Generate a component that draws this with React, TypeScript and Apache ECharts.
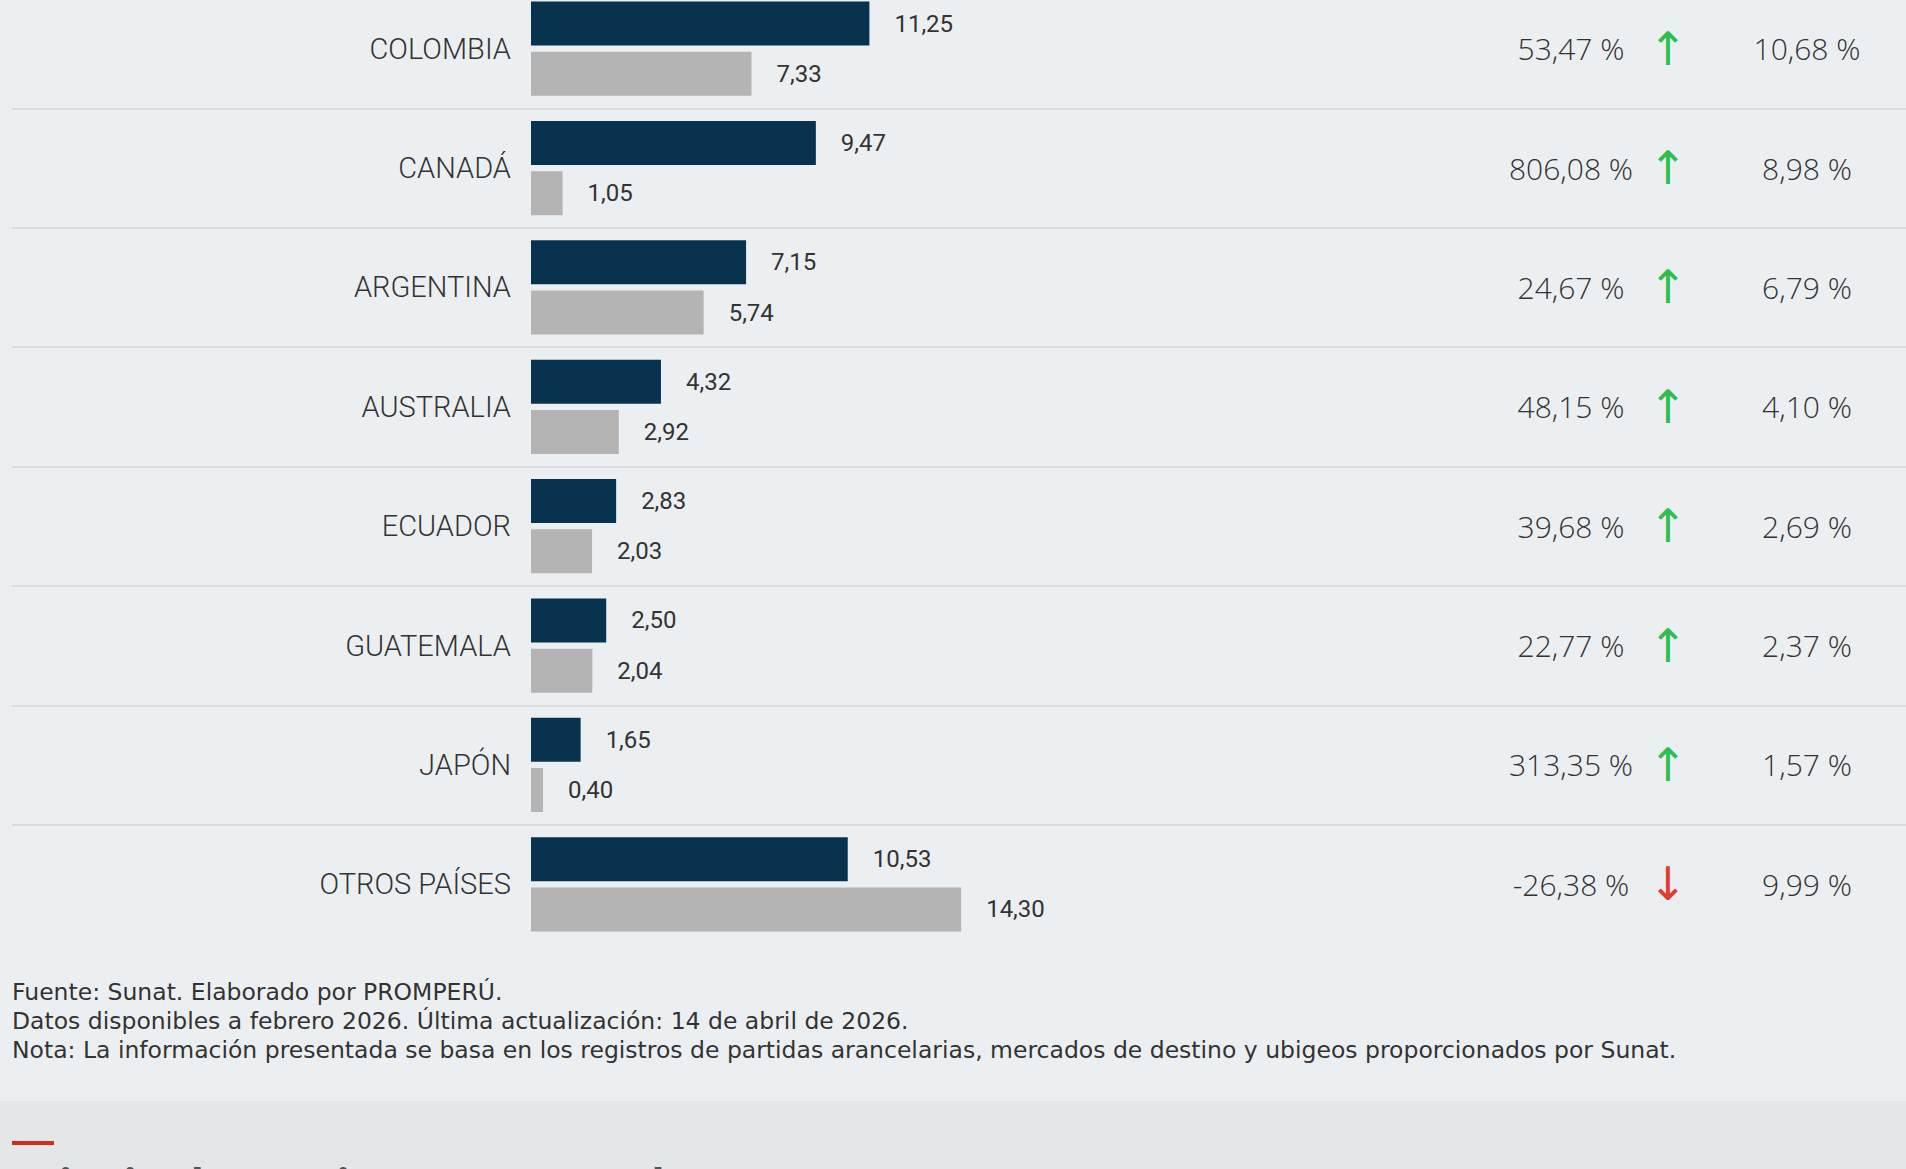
import React, { useEffect, useRef } from 'react';
import * as echarts from 'echarts';

const categories = ['COLOMBIA', 'CANADÁ', 'ARGENTINA', 'AUSTRALIA', 'ECUADOR', 'GUATEMALA', 'JAPÓN', 'OTROS PAÍSES'];
const valuesCurrent = [11.25, 9.47, 7.15, 4.32, 2.83, 2.5, 1.65, 10.53];
const valuesPrevious = [7.33, 1.05, 5.74, 2.92, 2.03, 2.04, 0.4, 14.3];
const variation = [53.47, 806.08, 24.67, 48.15, 39.68, 22.77, 313.35, -26.38];
const share = [10.68, 8.98, 6.79, 4.1, 2.69, 2.37, 1.57, 9.99];
const footnotes = [
  'Fuente: Sunat. Elaborado por PROMPERÚ.',
  'Datos disponibles a febrero 2026. Última actualización: 14 de abril de 2026.',
  'Nota: La información presentada se basa en los registros de partidas arancelarias, mercados de destino y ubigeos proporcionados por Sunat.',
];
const nextHeading = 'Principales regiones exportadoras';

const fmt = (v: number) => v.toFixed(2).replace('.', ',');

const DARK = '#08334e';
const GRAY = '#b4b4b4';
const TEXT = '#333333';
const SHIFT = 11; // the page is scrolled: the chart starts above the window

export default function App() {
  const ref = useRef<HTMLDivElement>(null);

  useEffect(() => {
    const chart = echarts.init(ref.current!, null, { renderer: 'svg' });
    const sideAxis = (offset: number, extra: any) => ({
      gridIndex: 0,
      type: 'category',
      data: categories,
      inverse: true,
      position: 'right',
      offset,
      axisLine: { show: false },
      axisTick: { show: false },
      splitLine: { show: false },
      axisLabel: {
        interval: 0,
        margin: 0,
        align: 'center',
        fontFamily: 'Open Sans',
        fontWeight: 300,
        fontSize: 30,
        color: TEXT,
        padding: [0, 0, 2, 0],
        ...extra,
      },
    });

    const barLabel = {
      show: true,
      position: 'right',
      distance: 25,
      fontFamily: 'Roboto',
      fontSize: 24,
      color: TEXT,
      formatter: (p: any) => fmt(p.value),
    };

    chart.setOption({
      animation: false,
      backgroundColor: '#eceff2',
      grid: [
        { left: 12, right: 0, top: 0, height: 955 },
        { left: 531, width: 752, top: 0, height: 955 },
      ],
      xAxis: [
        { gridIndex: 0, type: 'value', show: false, min: 0, max: 1 },
        { gridIndex: 1, type: 'value', show: false, min: 0, max: 25 },
      ],
      yAxis: [
        {
          gridIndex: 0,
          type: 'category',
          data: categories,
          inverse: true,
          axisLine: { show: false },
          axisTick: { show: false },
          axisLabel: { show: false },
          splitLine: { show: true, showMinLine: false, showMaxLine: false, lineStyle: { color: '#dcdcdc', width: 2 } },
        },
        {
          gridIndex: 1,
          type: 'category',
          data: categories,
          inverse: true,
          axisLine: { show: false },
          axisTick: { show: false },
          splitLine: { show: false },
          axisLabel: {
            interval: 0,
            margin: 20,
            fontFamily: 'Roboto',
            fontWeight: 300,
            fontSize: 29,
            color: TEXT,
            padding: [0, 0, 3, 0],
          },
        },
        sideAxis(-335, {
          formatter: (_v: string, i: number) => fmt(variation[i]) + ' %',
        }),
        sideAxis(-238, {
          fontFamily: 'DejaVu Sans',
          fontWeight: 'normal',
          fontSize: 46,
          padding: 0,
          formatter: (_v: string, i: number) => (variation[i] >= 0 ? '↑' : '↓'),
          color: (v: string) => (variation[categories.indexOf(v)] >= 0 ? '#2dbe4e' : '#e03c31'),
        }),
        sideAxis(-99, {
          formatter: (_v: string, i: number) => fmt(share[i]) + ' %',
        }),
      ],
      series: [
        {
          type: 'bar',
          xAxisIndex: 1,
          yAxisIndex: 1,
          data: valuesCurrent,
          barWidth: 44,
          barGap: '14%',
          itemStyle: { color: DARK },
          label: barLabel,
        },
        {
          type: 'bar',
          xAxisIndex: 1,
          yAxisIndex: 1,
          data: valuesPrevious,
          barWidth: 44,
          barGap: '14%',
          itemStyle: { color: GRAY },
          label: barLabel,
        },
      ],
      graphic: [
        {
          type: 'rect',
          left: 0,
          top: 1101 + SHIFT,
          shape: { width: 1906, height: 68 },
          style: { fill: '#e3e7e8' },
          silent: true,
        },
        {
          type: 'rect',
          left: 12,
          top: 1141 + SHIFT,
          shape: { width: 42, height: 4 },
          style: { fill: '#d52b1e' },
          silent: true,
        },
        ...footnotes.map((t, i) => ({
          type: 'text',
          left: 12,
          top: 980 + SHIFT + i * 29,
          style: { text: t, fontFamily: 'DejaVu Sans', fontSize: 23.5, fill: TEXT },
          silent: true,
        })),
        {
          type: 'text',
          left: 12,
          top: 1162 + SHIFT,
          style: { text: nextHeading, fontFamily: 'Noto Sans', fontWeight: 'bold', fontSize: 44, fill: '#555555' },
          silent: true,
        },
      ],
    });
    return () => chart.dispose();
  }, []);

  return (
    <div
      ref={ref}
      style={{ position: 'absolute', left: 0, top: -SHIFT, width: 1906, height: 1169 + SHIFT, background: '#eceff2' }}
    />
  );
}
